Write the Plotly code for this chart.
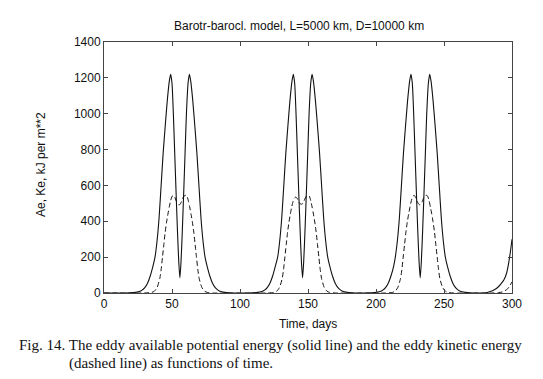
import plotly.graph_objects as go

# ---- data ----
x_ticks = [0, 50, 100, 150, 200, 250, 300]
y_ticks = [0, 200, 400, 600, 800, 1000, 1200, 1400]

# Solid line: eddy available potential energy (Ae)
ae_days_c1 = [0, 15, 22, 26, 28, 30, 32, 34, 36, 37.5, 39, 40.5, 42, 43.5, 45, 46.5, 48, 49,
              50, 51, 52, 53, 54, 55, 55.8, 56.6, 57.6, 58.6, 59.6, 60.6, 61.8, 62.8,
              63.8, 65.3, 66.8, 68.3, 69.8, 71.3, 72.8, 74.3, 75.8, 77.8, 79.8, 81.8, 83.8, 85.8, 90, 95]
ae_vals_c1 = [0, 0, 2, 8, 16, 30, 55, 95, 150, 200, 290, 420, 600, 780, 930, 1070, 1180, 1220,
              1170, 1000, 780, 560, 350, 170, 84, 170, 350, 560, 780, 1000, 1170, 1220,
              1180, 1070, 930, 780, 600, 420, 290, 200, 150, 95, 55, 30, 16, 8, 2, 0]

ae_days_c2 = [105, 112, 116, 118, 120, 122, 124, 126, 127.7, 129.2, 130.7, 132.2, 133.7, 135.2, 136.7, 138.2, 139.2,
              140.2, 141.2, 142.2, 143.2, 144.2, 145.2, 146, 146.8, 147.8, 148.8, 149.8, 150.8, 152, 153,
              154, 155.5, 157, 158.5, 160, 161.5, 163, 164.5, 166, 168, 170, 172, 174, 176, 180, 185]
ae_vals_c2 = [0, 2, 8, 16, 30, 55, 95, 150, 200, 290, 420, 600, 780, 930, 1070, 1180, 1220,
              1170, 1000, 780, 560, 350, 170, 84, 170, 350, 560, 780, 1000, 1170, 1220,
              1180, 1070, 930, 780, 600, 420, 290, 200, 150, 95, 55, 30, 16, 8, 2, 0]

ae_days_c3 = [192, 199, 203, 205, 207, 209, 211, 213, 214.2, 215.7, 217.2, 218.7, 220.2, 221.7, 223.2, 224.7, 225.7,
              226.7, 227.7, 228.7, 229.7, 230.7, 231.7, 232.5, 233.3, 234.3, 235.3, 236.3, 237.3, 238.5, 239.5,
              240.5, 242, 243.5, 245, 246.5, 248, 249.5, 251, 252.5, 254.5, 256.5, 258.5, 260.5, 262.5, 267, 272]
ae_vals_c3 = [0, 2, 8, 16, 30, 55, 95, 150, 200, 290, 420, 600, 780, 930, 1070, 1180, 1220,
              1170, 1000, 780, 560, 350, 170, 84, 170, 350, 560, 780, 1000, 1170, 1220,
              1180, 1070, 930, 780, 600, 420, 290, 200, 150, 95, 55, 30, 16, 8, 2, 0]

ae_days_tail = [280, 284, 287, 290, 292, 294, 296, 297.5, 299, 300]
ae_vals_tail = [0, 8, 18, 35, 52, 72, 110, 165, 240, 300]

# Dashed line: eddy kinetic energy (Ke)
ke_days_c1 = [0, 30, 35, 37, 39, 41, 42, 43, 44, 45, 46, 47, 48, 49, 50, 51, 52, 53, 54, 55, 56, 57, 58, 59, 60,
              61, 62, 63, 64, 65, 66, 67, 68, 69, 70, 72, 74, 76, 80]
ke_vals_c1 = [0, 0, 3, 10, 30, 80, 130, 200, 270, 340, 395, 440, 480, 515, 538, 545, 535, 515, 500, 492, 495, 510, 530, 542, 545,
              540, 515, 480, 440, 395, 340, 270, 200, 130, 80, 30, 10, 3, 0]

ke_days_c2 = [120, 125, 127, 129, 131, 132, 133, 134, 135, 136, 137, 138, 139, 140, 141, 142, 143, 144, 145, 146, 147, 148, 149, 150,
              151, 152, 153, 154, 155, 156, 157, 158, 159, 160, 162, 164, 166, 170]
ke_vals_c2 = [0, 3, 10, 30, 80, 130, 200, 270, 340, 395, 440, 480, 510, 528, 535, 528, 512, 500, 495, 498, 512, 530, 542, 545,
              540, 515, 480, 440, 395, 340, 270, 200, 130, 80, 30, 10, 3, 0]

ke_days_c3 = [207, 212, 214, 216, 218, 219, 220, 221, 222, 223, 224, 225, 226, 227, 228, 229, 230, 231, 232, 233, 234, 235, 236, 237,
              238, 239, 240, 241, 242, 243, 244, 245, 246, 247, 249, 251, 253, 257]
ke_vals_c3 = [0, 3, 10, 30, 80, 130, 200, 270, 340, 395, 440, 480, 515, 538, 545, 535, 515, 500, 492, 495, 510, 530, 542, 545,
              540, 515, 480, 440, 395, 340, 270, 200, 130, 80, 30, 10, 3, 0]

ke_days_tail = [285, 290, 293, 296, 298, 300]
ke_vals_tail = [0, 2, 6, 18, 35, 62]

title_text = "Barotr-barocl. model, L=5000 km, D=10000 km"
x_title = "Time, days"
y_title = "Ae, Ke, kJ per m**2"
caption_1 = "Fig. 14. The eddy available potential energy (solid line) and the eddy kinetic energy"
caption_2 = "(dashed line) as functions of time."

# ---- figure ----
ae_x = ae_days_c1 + ae_days_c2 + ae_days_c3 + ae_days_tail
ae_y = ae_vals_c1 + ae_vals_c2 + ae_vals_c3 + ae_vals_tail
ke_x = ke_days_c1 + ke_days_c2 + ke_days_c3 + ke_days_tail
ke_y = ke_vals_c1 + ke_vals_c2 + ke_vals_c3 + ke_vals_tail

W, H = 543, 379
L, R, T, B = 96, 504, 34, 285   # plot-area edges in pixels
fig = go.Figure()
fig.add_trace(go.Scatter(x=ae_x, y=ae_y, mode="lines", line=dict(color="#111", width=1.1, shape="spline", smoothing=0.6),
                         showlegend=False, hoverinfo="skip"))
fig.add_trace(go.Scatter(x=ke_x, y=ke_y, mode="lines", line=dict(color="#111", width=1, dash="5px,3px", shape="spline", smoothing=0.6),
                         showlegend=False, hoverinfo="skip"))

axis_common = dict(showline=True, linecolor="#444", linewidth=1, mirror="ticks", ticks="inside", ticklen=4,
                   tickcolor="#444", showgrid=False, zeroline=False,
                   tickfont=dict(family="Liberation Sans, Arial", size=12, color="#111"))
fig.update_xaxes(range=[0, 300], tickvals=x_ticks, ticktext=[str(v) for v in x_ticks], **axis_common)
fig.update_yaxes(range=[0, 1400], tickvals=y_ticks, ticktext=[str(v) for v in y_ticks], **axis_common)


def px(x):
    return (x - L) / (R - L)


def py(y):
    return (B - y) / (B - T)


txt_font = dict(family="Liberation Sans, Arial", size=12, color="#111")
cap_font = dict(family="Liberation Serif, Times New Roman", size=15, color="#111")
annotations = [
    dict(text=title_text, x=px(291), y=py(18), xref="paper", yref="paper", xanchor="center", yanchor="middle",
         showarrow=False, font=txt_font),
    dict(text=x_title, x=px(300), y=py(316), xref="paper", yref="paper", xanchor="center", yanchor="middle",
         showarrow=False, font=txt_font),
    dict(text=y_title, x=px(33), y=py(157), xref="paper", yref="paper", xanchor="center", yanchor="middle",
         textangle=-90, showarrow=False, font=txt_font),
    dict(text=caption_1, x=px(9), y=py(337), xref="paper", yref="paper", xanchor="left", yanchor="middle",
         showarrow=False, font=cap_font),
    dict(text=caption_2, x=px(59), y=py(355), xref="paper", yref="paper", xanchor="left", yanchor="middle",
         showarrow=False, font=cap_font),
]

fig.update_layout(width=W, height=H, margin=dict(l=L, r=W - R, t=T, b=H - B),
                  paper_bgcolor="white", plot_bgcolor="white", annotations=annotations)

fig.write_html("out.html")
